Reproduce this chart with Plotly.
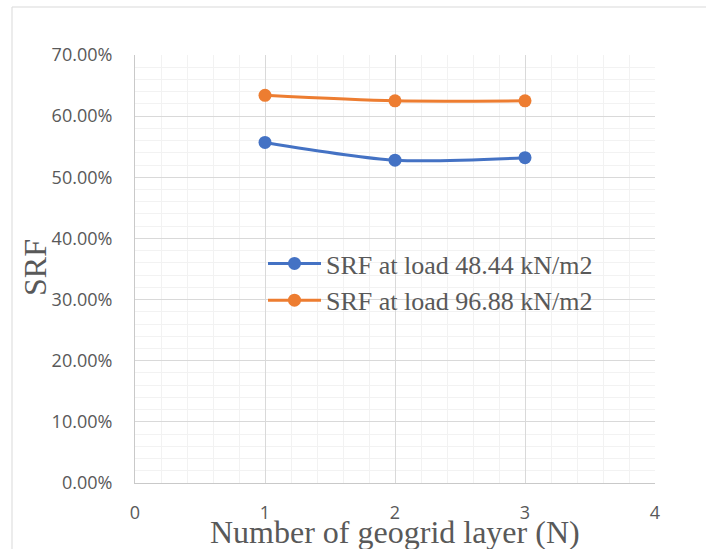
import plotly.graph_objects as go

# Strength reduction factor vs. number of geogrid layers
layers = [1, 2, 3]
srf_48 = [0.557, 0.528, 0.532]
srf_96 = [0.634, 0.625, 0.625]
series_names = ["SRF at load 48.44 kN/m2", "SRF at load 96.88 kN/m2"]
series_colors = ["#4472C4", "#ED7D31"]
x_title = "Number of geogrid layer (N)"
y_title = "SRF"

W, H = 706, 549
L, R, T, B = 135, 51, 55, 66
plot_w = W - L - R
plot_h = H - T - B

def px_x(p):
    return (p - L) / plot_w

def px_y(p):
    return (H - B - p) / plot_h

fig = go.Figure()
for vals, name, col in zip([srf_48, srf_96], series_names, series_colors):
    fig.add_trace(go.Scatter(
        x=layers, y=vals, name=name, mode="lines+markers",
        line=dict(color=col, width=3, shape="spline", smoothing=0.8),
        marker=dict(color=col, size=13),
    ))

grid_major = "#D9D9D9"
grid_minor = "#F2F2F2"
tick_font = dict(family="Open Sans", size=18, color="#595959")

fig.update_xaxes(
    range=[0, 4], dtick=1, tick0=0,
    showgrid=True, gridcolor=grid_major, gridwidth=1,
    minor=dict(dtick=0.2, showgrid=True, gridcolor=grid_minor, gridwidth=1),
    showline=True, linecolor="#C9C9C9", linewidth=1,
    zeroline=False, tickfont=tick_font, ticklabelstandoff=13,
)
fig.update_yaxes(
    range=[0, 0.7], dtick=0.1, tick0=0, tickformat=".2%",
    showgrid=True, gridcolor=grid_major, gridwidth=1,
    minor=dict(dtick=0.02, showgrid=True, gridcolor=grid_minor, gridwidth=1),
    showline=True, linecolor="#C9C9C9", linewidth=1, mirror=False,
    zeroline=False, tickfont=tick_font, ticklabelstandoff=18,
)

# chart-area frame
fig.add_shape(type="rect", xref="paper", yref="paper",
              x0=px_x(12), x1=px_x(712), y0=px_y(556), y1=px_y(7),
              line=dict(color="#D9D9D9", width=1), fillcolor="rgba(0,0,0,0)",
              layer="below")

fig.add_annotation(text=x_title, xref="paper", yref="paper",
                   x=px_x(395), y=px_y(532), showarrow=False,
                   xanchor="center", yanchor="middle",
                   font=dict(family="Liberation Serif", size=32, color="#595959"))
fig.add_annotation(text=y_title, xref="paper", yref="paper",
                   x=px_x(35), y=px_y(268), showarrow=False, textangle=-90,
                   xanchor="center", yanchor="middle",
                   font=dict(family="Liberation Serif", size=32, color="#595959"))

fig.update_layout(
    width=W, height=H,
    margin=dict(l=L, r=R, t=T, b=B, pad=0),
    paper_bgcolor="white", plot_bgcolor="white",
    showlegend=True,
    legend=dict(
        x=px_x(263), y=px_y(240), xanchor="left", yanchor="top",
        bgcolor="rgba(0,0,0,0)", borderwidth=0, itemwidth=53,
        font=dict(family="Liberation Serif", size=26, color="#595959"),
    ),
)

fig.write_html("out.html")
